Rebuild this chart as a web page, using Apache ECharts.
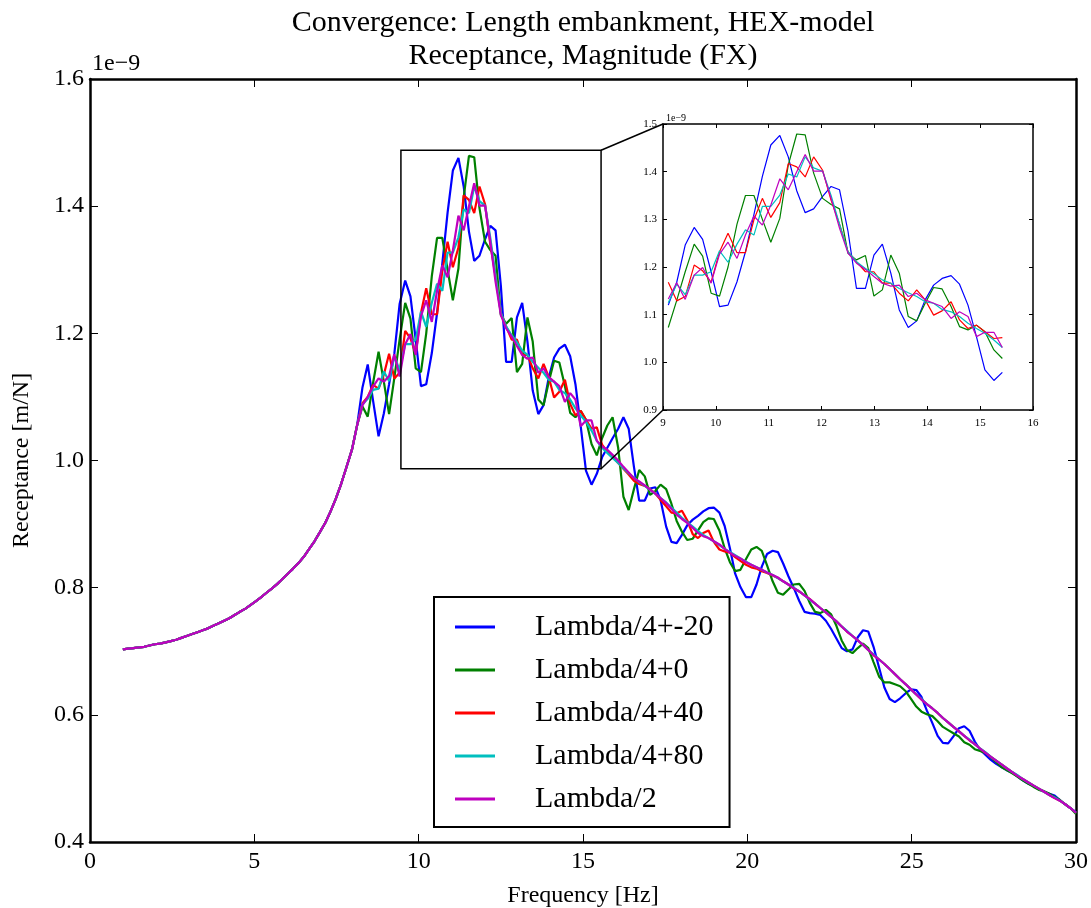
<!DOCTYPE html>
<html>
<head>
<meta charset="utf-8">
<script src="https://cdn.jsdelivr.net/npm/echarts@6/dist/echarts.min.js"></script>
<style>
html, body { margin: 0; padding: 0; background: #fff; }
#chart { width: 1091px; height: 908px; }
</style>
</head>
<body>
<div id="chart"></div>
<script>
// frequency grid [Hz], 180 points from 1 to 30 Hz
const freq = [
    1.00, 1.16, 1.32, 1.49, 1.65, 1.81, 1.97, 2.13, 2.30, 2.46,
    2.62, 2.78, 2.94, 3.11, 3.27, 3.43, 3.59, 3.75, 3.92, 4.08,
    4.24, 4.40, 4.56, 4.73, 4.89, 5.05, 5.21, 5.37, 5.54, 5.70,
    5.86, 6.02, 6.18, 6.35, 6.51, 6.67, 6.83, 6.99, 7.16, 7.32,
    7.48, 7.64, 7.80, 7.97, 8.13, 8.29, 8.45, 8.61, 8.78, 8.94,
    9.10, 9.26, 9.42, 9.59, 9.75, 9.91, 10.07, 10.23, 10.40, 10.56,
    10.72, 10.88, 11.04, 11.21, 11.37, 11.53, 11.69, 11.85, 12.02, 12.18,
    12.34, 12.50, 12.66, 12.83, 12.99, 13.15, 13.31, 13.47, 13.64, 13.80,
    13.96, 14.12, 14.28, 14.45, 14.61, 14.77, 14.93, 15.09, 15.26, 15.42,
    15.58, 15.74, 15.90, 16.07, 16.23, 16.39, 16.55, 16.71, 16.88, 17.04,
    17.20, 17.36, 17.53, 17.69, 17.85, 18.01, 18.17, 18.34, 18.50, 18.66,
    18.82, 18.98, 19.15, 19.31, 19.47, 19.63, 19.79, 19.96, 20.12, 20.28,
    20.44, 20.60, 20.77, 20.93, 21.09, 21.25, 21.41, 21.58, 21.74, 21.90,
    22.06, 22.22, 22.39, 22.55, 22.71, 22.87, 23.03, 23.20, 23.36, 23.52,
    23.68, 23.84, 24.01, 24.17, 24.33, 24.49, 24.65, 24.82, 24.98, 25.14,
    25.30, 25.46, 25.63, 25.79, 25.95, 26.11, 26.27, 26.44, 26.60, 26.76,
    26.92, 27.08, 27.25, 27.41, 27.57, 27.73, 27.89, 28.06, 28.22, 28.38,
    28.54, 28.70, 28.87, 29.03, 29.19, 29.35, 29.51, 29.68, 29.84, 30.00
];

// below ~8 Hz all models give the same curve (values in 1e-9 m/N)
const lowBand = [
    0.703, 0.704, 0.705, 0.706, 0.707, 0.709, 0.711, 0.712, 0.714, 0.716,
    0.718, 0.721, 0.724, 0.727, 0.730, 0.733, 0.736, 0.740, 0.744, 0.748,
    0.752, 0.757, 0.762, 0.767, 0.773, 0.779, 0.785, 0.792, 0.799, 0.806,
    0.814, 0.822, 0.830, 0.839, 0.849, 0.861, 0.873, 0.887, 0.902, 0.920,
    0.940, 0.963, 0.989, 1.017
];

// from 8.13 Hz on, one list per model
const blueHigh = [
    1.056, 1.115, 1.151, 1.095, 1.038, 1.074, 1.120, 1.168, 1.246, 1.283,
    1.258, 1.190, 1.117, 1.120, 1.169, 1.232, 1.310, 1.390, 1.456, 1.476,
    1.431, 1.360, 1.314, 1.322, 1.348, 1.369, 1.362, 1.275, 1.155, 1.155,
    1.225, 1.248, 1.187, 1.110, 1.073, 1.087, 1.131, 1.162, 1.176, 1.182,
    1.164, 1.120, 1.054, 0.984, 0.962, 0.979, 1.005, 1.020, 1.035, 1.050,
    1.068, 1.050, 0.990, 0.937, 0.937, 0.956, 0.958, 0.938, 0.896, 0.872,
    0.870, 0.883, 0.898, 0.907, 0.913, 0.920, 0.925, 0.926, 0.918, 0.897,
    0.862, 0.822, 0.801, 0.785, 0.785, 0.805, 0.833, 0.853, 0.858, 0.856,
    0.838, 0.818, 0.800, 0.779, 0.762, 0.760, 0.759, 0.757, 0.748, 0.735,
    0.720, 0.705, 0.700, 0.703, 0.722, 0.733, 0.731, 0.707, 0.674, 0.643,
    0.625, 0.620, 0.626, 0.634, 0.640, 0.639, 0.628, 0.607, 0.587, 0.567,
    0.556, 0.555, 0.566, 0.579, 0.582, 0.575, 0.558, 0.545, 0.537, 0.529,
    0.523, 0.518, 0.513, 0.509, 0.503, 0.497, 0.492, 0.488, 0.483, 0.479,
    0.476, 0.473, 0.466, 0.459, 0.453, 0.447
];
const greenHigh = [
    1.056, 1.085, 1.069, 1.121, 1.171, 1.124, 1.073, 1.130, 1.190, 1.248,
    1.223, 1.145, 1.139, 1.200, 1.290, 1.350, 1.350, 1.300, 1.252, 1.302,
    1.414, 1.479, 1.477, 1.397, 1.344, 1.331, 1.322, 1.229, 1.215, 1.224,
    1.139, 1.152, 1.225, 1.187, 1.096, 1.087, 1.124, 1.157, 1.154, 1.117,
    1.075, 1.068, 1.078, 1.064, 1.026, 1.008, 1.035, 1.055, 1.068, 1.020,
    0.943, 0.922, 0.955, 0.985, 0.975, 0.946, 0.952, 0.962, 0.955, 0.932,
    0.905, 0.888, 0.875, 0.877, 0.890, 0.903, 0.909, 0.908, 0.890, 0.862,
    0.840, 0.826, 0.828, 0.845, 0.860, 0.864, 0.858, 0.835, 0.810, 0.792,
    0.789, 0.797, 0.805, 0.806, 0.795, 0.776, 0.762, 0.760, 0.765, 0.758,
    0.740, 0.717, 0.702, 0.697, 0.705, 0.712, 0.705, 0.683, 0.660, 0.651,
    0.651, 0.648, 0.645, 0.637, 0.625, 0.613, 0.605, 0.601, 0.598, 0.590,
    0.581, 0.576, 0.571, 0.566, 0.557, 0.553, 0.546, 0.543, 0.540, 0.533,
    0.526, 0.518, 0.513, 0.508, 0.503, 0.497, 0.492, 0.487, 0.482, 0.480,
    0.476, 0.471, 0.466, 0.459, 0.453, 0.444
];
const redHigh = [
    1.056, 1.090, 1.100, 1.119, 1.113, 1.135, 1.168, 1.129, 1.138, 1.204,
    1.192, 1.168, 1.232, 1.271, 1.230, 1.230, 1.299, 1.344, 1.304, 1.335,
    1.417, 1.410, 1.389, 1.431, 1.403, 1.340, 1.290, 1.232, 1.211, 1.190,
    1.190, 1.166, 1.166, 1.145, 1.129, 1.152, 1.131, 1.099, 1.108, 1.127,
    1.089, 1.071, 1.078, 1.064, 1.050, 1.052, 1.025, 1.014, 1.006, 0.996,
    0.987, 0.978, 0.968, 0.963, 0.960, 0.955, 0.948, 0.938, 0.928, 0.918,
    0.917, 0.921, 0.906, 0.884, 0.878, 0.886, 0.890, 0.872, 0.860, 0.857,
    0.855, 0.848, 0.842, 0.836, 0.832, 0.830, 0.826, 0.823, 0.819, 0.815,
    0.810, 0.805, 0.799, 0.794, 0.788, 0.782, 0.775, 0.768, 0.761, 0.754,
    0.747, 0.739, 0.731, 0.724, 0.717, 0.710, 0.702, 0.694, 0.687, 0.680,
    0.672, 0.664, 0.656, 0.648, 0.640, 0.632, 0.624, 0.617, 0.610, 0.603,
    0.595, 0.588, 0.581, 0.574, 0.567, 0.560, 0.554, 0.547, 0.540, 0.534,
    0.528, 0.522, 0.516, 0.510, 0.504, 0.499, 0.494, 0.489, 0.484, 0.479,
    0.474, 0.469, 0.465, 0.459, 0.453, 0.446
];
const cyanHigh = [
    1.056, 1.088, 1.097, 1.111, 1.113, 1.140, 1.125, 1.164, 1.142, 1.183,
    1.183, 1.190, 1.234, 1.210, 1.248, 1.278, 1.267, 1.327, 1.327, 1.351,
    1.395, 1.389, 1.431, 1.408, 1.401, 1.350, 1.290, 1.232, 1.211, 1.197,
    1.186, 1.173, 1.166, 1.155, 1.146, 1.138, 1.127, 1.124, 1.111, 1.106,
    1.096, 1.082, 1.071, 1.061, 1.047, 1.031, 1.020, 1.012, 1.004, 0.996,
    0.988, 0.980, 0.973, 0.966, 0.960, 0.954, 0.948, 0.941, 0.934, 0.926,
    0.918, 0.910, 0.903, 0.896, 0.889, 0.883, 0.878, 0.873, 0.867, 0.861,
    0.856, 0.851, 0.846, 0.841, 0.836, 0.832, 0.828, 0.824, 0.820, 0.815,
    0.810, 0.805, 0.800, 0.794, 0.788, 0.781, 0.775, 0.768, 0.761, 0.754,
    0.747, 0.739, 0.732, 0.724, 0.717, 0.710, 0.702, 0.695, 0.687, 0.680,
    0.672, 0.664, 0.656, 0.648, 0.640, 0.632, 0.625, 0.617, 0.610, 0.603,
    0.595, 0.588, 0.581, 0.574, 0.567, 0.561, 0.554, 0.547, 0.541, 0.534,
    0.528, 0.522, 0.516, 0.510, 0.505, 0.499, 0.494, 0.489, 0.484, 0.479,
    0.474, 0.470, 0.465, 0.459, 0.453, 0.446
];
const magentaHigh = [
    1.056, 1.087, 1.100, 1.116, 1.129, 1.124, 1.133, 1.167, 1.132, 1.183,
    1.199, 1.166, 1.227, 1.252, 1.218, 1.267, 1.307, 1.288, 1.330, 1.385,
    1.362, 1.400, 1.436, 1.401, 1.401, 1.344, 1.281, 1.229, 1.208, 1.195,
    1.180, 1.166, 1.160, 1.162, 1.138, 1.145, 1.131, 1.124, 1.117, 1.092,
    1.106, 1.096, 1.054, 1.063, 1.063, 1.031, 1.022, 1.017, 1.009, 1.000,
    0.990, 0.981, 0.972, 0.967, 0.961, 0.954, 0.948, 0.941, 0.933, 0.924,
    0.915, 0.908, 0.902, 0.894, 0.886, 0.881, 0.878, 0.873, 0.868, 0.861,
    0.855, 0.850, 0.846, 0.840, 0.836, 0.832, 0.828, 0.824, 0.820, 0.816,
    0.810, 0.805, 0.799, 0.794, 0.788, 0.782, 0.775, 0.768, 0.761, 0.754,
    0.747, 0.739, 0.731, 0.724, 0.717, 0.710, 0.702, 0.694, 0.687, 0.680,
    0.672, 0.664, 0.656, 0.648, 0.640, 0.632, 0.624, 0.617, 0.610, 0.603,
    0.595, 0.588, 0.581, 0.574, 0.567, 0.560, 0.554, 0.547, 0.540, 0.534,
    0.528, 0.522, 0.516, 0.510, 0.504, 0.499, 0.494, 0.489, 0.484, 0.479,
    0.474, 0.469, 0.465, 0.459, 0.453, 0.446
];

const seriesNames = ['Lambda/4+-20', 'Lambda/4+0', 'Lambda/4+40', 'Lambda/4+80', 'Lambda/2'];
const seriesColors = ['#0000ff', '#008000', '#ff0000', '#00bfbf', '#bf00bf'];
const highParts = [blueHigh, greenHigh, redHigh, cyanHigh, magentaHigh];

// inset shows samples 50..89; zoom box drawn on the main axes [f0, f1, v0, v1]
const insetRange = [50, 90];
const zoomBox = [9.46, 15.55, 0.987, 1.488];

const serif = '"Liberation Serif", "DejaVu Serif", serif';
const chart = echarts.init(document.getElementById('chart'));

function toPairs(vals) {
    return vals.map((v, i) => [freq[i], v]);
}

function tickAxis(grid, pos, min, max, interval, len, width, labels, fontSize) {
    const isX = pos === 'top' || pos === 'bottom';
    return {
        type: 'value',
        gridIndex: grid,
        position: pos,
        min: min,
        max: max,
        interval: interval,
        axisLine: { show: true, onZero: false, lineStyle: { color: '#000', width: width } },
        axisTick: { show: true, inside: true, length: len, lineStyle: { color: '#000', width: 1 } },
        axisLabel: {
            show: labels,
            color: '#000',
            fontFamily: serif,
            fontSize: fontSize,
            margin: isX ? 8 : 6,
            formatter: isX ? (v => String(v)) : (v => v.toFixed(1))
        },
        splitLine: { show: false }
    };
}

const mainSeries = [];
const insetSeries = [];
highParts.forEach((part, i) => {
    const pairs = toPairs(lowBand.concat(part));
    mainSeries.push({
        name: seriesNames[i],
        type: 'line',
        xAxisIndex: 0,
        yAxisIndex: 0,
        data: pairs,
        showSymbol: false,
        color: seriesColors[i],
        lineStyle: { color: seriesColors[i], width: 2.2 },
        z: 3 + i,
        silent: true
    });
    insetSeries.push({
        name: seriesNames[i],
        type: 'line',
        xAxisIndex: 2,
        yAxisIndex: 2,
        data: pairs.slice(insetRange[0], insetRange[1]),
        showSymbol: false,
        color: seriesColors[i],
        lineStyle: { color: seriesColors[i], width: 1.2 },
        z: 3 + i,
        silent: true
    });
});

const xMain = tickAxis(0, 'bottom', 0, 30, 5, 8, 2.5, true, 24);
xMain.name = 'Frequency [Hz]';
xMain.nameLocation = 'middle';
xMain.nameGap = 42;
xMain.nameTextStyle = { fontFamily: serif, fontSize: 24, color: '#000' };

const yMain = tickAxis(0, 'left', 0.4, 1.6, 0.2, 8, 2.5, true, 24);
yMain.name = 'Receptance [m/N]';
yMain.nameLocation = 'middle';
yMain.nameGap = 56;
yMain.nameTextStyle = { fontFamily: serif, fontSize: 24, color: '#000' };

const option = {
    animation: false,
    backgroundColor: '#fff',
    grid: [
        { left: 90, top: 79, right: 15, bottom: 66, outerBoundsMode: 'none' },
        { left: 663, top: 124, width: 370, height: 286, outerBoundsMode: 'none',
          show: true, backgroundColor: '#fff', borderWidth: 0 }
    ],
    xAxis: [
        xMain,
        tickAxis(0, 'top', 0, 30, 5, 8, 2.5, false, 24),
        tickAxis(1, 'bottom', 9, 16, 1, 4, 1.5, true, 11),
        tickAxis(1, 'top', 9, 16, 1, 4, 1.5, false, 11)
    ],
    yAxis: [
        yMain,
        tickAxis(0, 'right', 0.4, 1.6, 0.2, 8, 2.5, false, 24),
        tickAxis(1, 'left', 0.9, 1.5, 0.1, 4, 1.5, true, 11),
        tickAxis(1, 'right', 0.9, 1.5, 0.1, 4, 1.5, false, 11)
    ],
    legend: {
        data: seriesNames,
        orient: 'vertical',
        left: 434,
        top: 597,
        padding: [15, 16, 13, 21],
        itemGap: 13,
        itemWidth: 40,
        itemHeight: 3,
        icon: 'rect',
        selectedMode: false,
        borderColor: '#000',
        borderWidth: 2,
        backgroundColor: '#fff',
        textStyle: { fontFamily: serif, fontSize: 30, color: '#000', padding: [0, 0, 0, 35] }
    },
    graphic: [
        {
            type: 'text', x: 583, y: 23,
            style: { text: 'Convergence: Length embankment, HEX-model', font: '30px ' + serif, fill: '#000',
                     textAlign: 'center', textVerticalAlign: 'middle', align: 'center', verticalAlign: 'middle' }
        },
        {
            type: 'text', x: 583, y: 56,
            style: { text: 'Receptance, Magnitude (FX)', font: '30px ' + serif, fill: '#000',
                     textAlign: 'center', textVerticalAlign: 'middle', align: 'center', verticalAlign: 'middle' }
        },
        {
            type: 'text', x: 92, y: 76,
            style: { text: '1e\u22129', font: '24px ' + serif, fill: '#000',
                     textAlign: 'left', textVerticalAlign: 'bottom', align: 'left', verticalAlign: 'bottom' }
        },
        {
            type: 'text', x: 666, y: 123,
            style: { text: '1e\u22129', font: '10px ' + serif, fill: '#000',
                     textAlign: 'left', textVerticalAlign: 'bottom', align: 'left', verticalAlign: 'bottom' }
        }
    ],
    series: mainSeries.concat(insetSeries)
};

chart.setOption(option);

// zoom box on the main axes and the two connector lines to the inset
const mainPx = p => chart.convertToPixel({ xAxisIndex: 0, yAxisIndex: 0 }, p);
const insetPx = p => chart.convertToPixel({ xAxisIndex: 2, yAxisIndex: 2 }, p);
const bl = mainPx([zoomBox[0], zoomBox[2]]);
const br = mainPx([zoomBox[1], zoomBox[2]]);
const tr = mainPx([zoomBox[1], zoomBox[3]]);
const tl = mainPx([zoomBox[0], zoomBox[3]]);
const insetTL = insetPx([9, 1.5]);
const insetBL = insetPx([9, 0.9]);

chart.setOption({
    graphic: option.graphic.concat([
        {
            type: 'polygon', z: 10,
            shape: { points: [tl, tr, br, bl] },
            style: { fill: 'none', stroke: '#000', lineWidth: 1.5 }
        },
        {
            type: 'line', z: 10,
            shape: { x1: tr[0], y1: tr[1], x2: insetTL[0], y2: insetTL[1] },
            style: { stroke: '#000', lineWidth: 1.5 }
        },
        {
            type: 'line', z: 10,
            shape: { x1: br[0], y1: br[1], x2: insetBL[0], y2: insetBL[1] },
            style: { stroke: '#000', lineWidth: 1.5 }
        }
    ])
});

window.addEventListener('resize', function() {
    chart.resize();
});
</script>
</body>
</html>
